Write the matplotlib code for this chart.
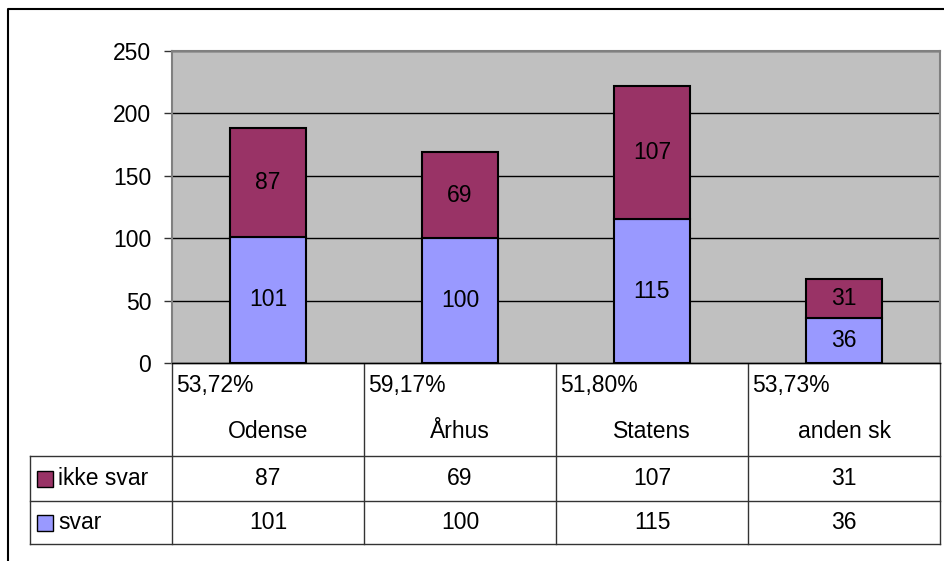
import numpy as np
import matplotlib.pyplot as plt

plt.rcParams['font.family'] = ['Liberation Sans', 'DejaVu Sans']

# data
categories = ['Odense', 'Århus', 'Statens', 'anden sk']
svar = [101, 100, 115, 36]
ikke_svar = [87, 69, 107, 31]
pct_labels = ['53,72%', '59,17%', '51,80%', '53,73%']
series_names = ['ikke svar', 'svar']
yticks = [0, 50, 100, 150, 200, 250]

col_svar = '#9999FF'
col_ikke = '#993366'
W, H = 945, 561
fs = 16.5

fig = plt.figure(figsize=(W / 100, H / 100), dpi=100)

# layout in pixels
plot_l, plot_r, plot_t, plot_b = 172, 940, 51, 363
table_rows = [363, 456, 501, 544]
legend_l = 30
ncat = len(categories)
colw = (plot_r - plot_l) / ncat

ax = fig.add_axes([plot_l / W, 1 - plot_b / H, (plot_r - plot_l) / W, (plot_b - plot_t) / H])
ax.set_facecolor('#C0C0C0')
x = np.arange(ncat) + 0.5
ax.bar(x, svar, 0.4, color=col_svar, edgecolor='black', linewidth=1.5, zorder=3)
ax.bar(x, ikke_svar, 0.4, bottom=svar, color=col_ikke, edgecolor='black', linewidth=1.5, zorder=3)
for xi, s, k in zip(x, svar, ikke_svar):
    ax.text(xi, s / 2, str(s), ha='center', va='center', fontsize=fs, zorder=4)
    ax.text(xi, s + k / 2, str(k), ha='center', va='center', fontsize=fs, zorder=4)

ax.set_xlim(0, ncat)
ax.set_ylim(0, 250)
ax.set_yticks(yticks)
ax.set_xticks([])
ax.tick_params(axis='y', direction='out', length=6, width=1, color='#333333', labelsize=fs, pad=9)
ax.grid(axis='y', color='black', linewidth=1, zorder=1)
for side in ['top', 'right', 'left']:
    ax.spines[side].set_color('#808080')
    ax.spines[side].set_linewidth(1.5)
ax.spines['bottom'].set_color('black')
ax.spines['bottom'].set_linewidth(1)

# overlay for frame and data table
ov = fig.add_axes([0, 0, 1, 1], zorder=-1)
ov.set_xlim(0, W)
ov.set_ylim(H, 0)
ov.axis('off')
ov.patch.set_alpha(0)

# outer chart frame
ov.plot([8, 8, W], [H, 9, 9], color='black', linewidth=1.5)

lc = '#333333'
# table horizontal lines
ov.plot([plot_l, plot_r], [table_rows[0]] * 2, color=lc, linewidth=1)
for yy in table_rows[1:]:
    ov.plot([legend_l, plot_r], [yy, yy], color=lc, linewidth=1)
# vertical lines
for i in range(ncat + 1):
    xx = plot_l + i * colw
    ov.plot([xx, xx], [table_rows[0], table_rows[-1]], color=lc, linewidth=1)
ov.plot([legend_l, legend_l], [table_rows[1], table_rows[-1]], color=lc, linewidth=1)

for i in range(ncat):
    cx = plot_l + (i + 0.5) * colw
    ov.text(plot_l + i * colw + 4, 385, pct_labels[i], ha='left', va='center', fontsize=fs)
    ov.text(cx, 431, categories[i], ha='center', va='center', fontsize=fs)
    ov.text(cx, (table_rows[1] + table_rows[2]) / 2, str(ikke_svar[i]), ha='center', va='center', fontsize=fs)
    ov.text(cx, (table_rows[2] + table_rows[3]) / 2, str(svar[i]), ha='center', va='center', fontsize=fs)

# legend keys in the table
for r, (name, col) in enumerate(zip(series_names, [col_ikke, col_svar])):
    yc = (table_rows[r + 1] + table_rows[r + 2]) / 2
    ov.add_patch(plt.Rectangle((37, yc - 8), 16, 16, facecolor=col, edgecolor='black', linewidth=1))
    ov.text(58, yc, name, ha='left', va='center', fontsize=fs)

fig.savefig('out.png', dpi=100)
